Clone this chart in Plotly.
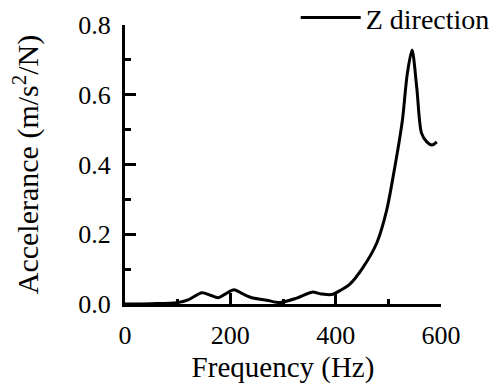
import plotly.graph_objects as go

freq = [0, 50, 99, 120, 146, 162, 177, 192, 207, 225, 243, 269, 294, 326, 355,
        372, 392, 410, 427, 452, 478, 497, 512, 520, 527, 536, 545, 554, 563,
        573, 583, 592]
accel = [0.0, 0.001, 0.004, 0.012, 0.032, 0.025, 0.018, 0.030, 0.041, 0.028,
         0.017, 0.011, 0.004, 0.017, 0.034, 0.029, 0.027, 0.040, 0.057, 0.105,
         0.175, 0.27, 0.39, 0.46, 0.53, 0.66, 0.728, 0.62, 0.49, 0.465, 0.456,
         0.465]

x_ticks = [0, 200, 400, 600]
y_ticks = [0.0, 0.2, 0.4, 0.6, 0.8]

FONT = "Liberation Serif, Times New Roman, serif"

fig = go.Figure()
fig.add_trace(go.Scatter(
    x=freq, y=accel, mode="lines", name="Z direction",
    line=dict(color="black", width=3, shape="spline", smoothing=0.8),
))

fig.update_layout(
    width=500, height=384,
    margin=dict(l=125, r=59, t=25, b=80, autoexpand=False),
    paper_bgcolor="white", plot_bgcolor="white",
    font=dict(family=FONT, color="black", size=26),
    showlegend=True,
    legend=dict(x=1.17, y=1.115, xanchor="right", yanchor="top",
                bgcolor="rgba(0,0,0,0)", font=dict(size=28, family=FONT),
                itemwidth=60),
)

fig.update_xaxes(
    range=[0, 600], tickvals=x_ticks, ticktext=[str(v) for v in x_ticks],
    ticks="inside", ticklen=11, tickwidth=2.5, tickcolor="black",
    showline=True, linecolor="black", linewidth=3,
    showgrid=False, zeroline=False,
    minor=dict(tickvals=[100, 300, 500], ticks="inside", ticklen=5,
               tickwidth=2.5, tickcolor="black"),
    ticklabelstandoff=6,
    title=dict(text="Frequency (Hz)", font=dict(size=29, family=FONT),
               standoff=12),
    automargin=False,
)
fig.update_yaxes(
    range=[0, 0.8], tickvals=y_ticks, ticktext=[f"{v:.1f}" for v in y_ticks],
    ticks="inside", ticklen=11, tickwidth=2.5, tickcolor="black",
    showline=True, linecolor="black", linewidth=3,
    showgrid=False, zeroline=False,
    minor=dict(tickvals=[0.1, 0.3, 0.5, 0.7], ticks="inside", ticklen=6,
               tickwidth=2.5, tickcolor="black"),
    ticklabelstandoff=6,
    title=dict(text="Accelerance (m/s<sup>2</sup>/N)",
               font=dict(size=30, family=FONT), standoff=31),
    automargin=False,
)

fig.write_html("out.html")
